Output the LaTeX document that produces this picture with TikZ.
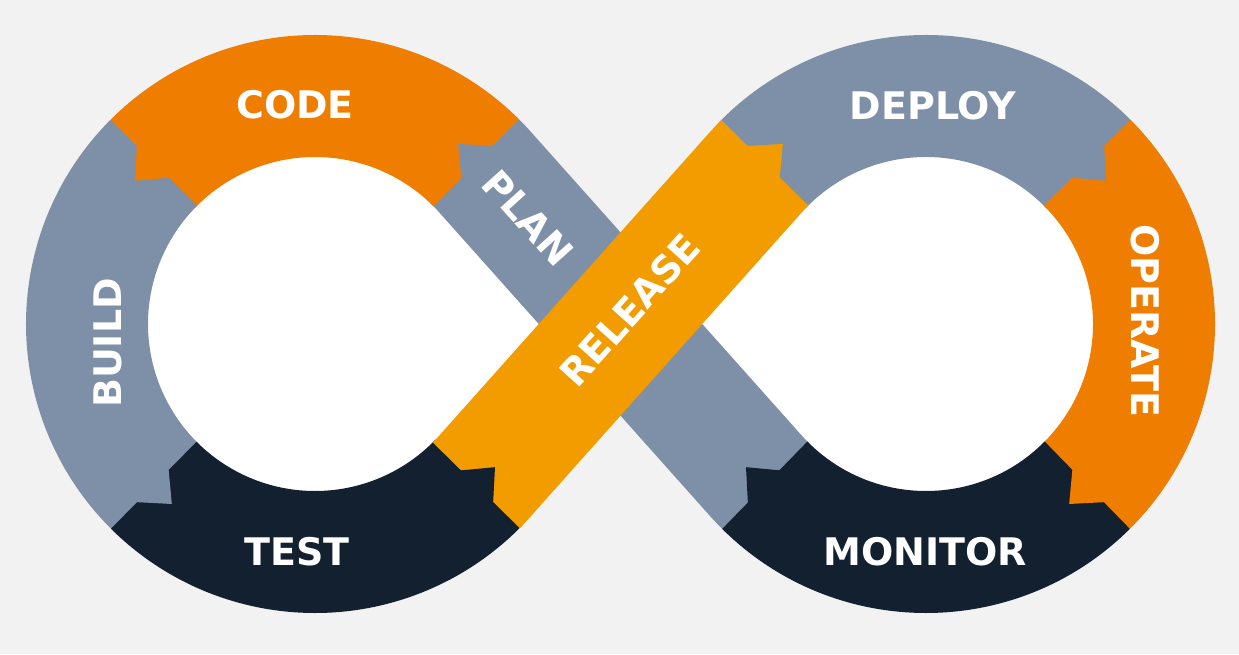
\documentclass[tikz,border=0pt]{standalone}
\usepackage{fontspec}
\setmainfont{DejaVu Sans}
\usetikzlibrary{calc}
\definecolor{codeorange}{HTML}{EE7D00}
\definecolor{slate}{HTML}{7E8FA8}
\definecolor{navy}{HTML}{13202F}
\definecolor{amber}{HTML}{F39C00}
\definecolor{paper}{HTML}{F2F2F2}
\tikzset{
  band/.style={line width=122pt},
  lbl/.style={text=white, font=\fontsize{38}{40}\selectfont\bfseries}
}
\begin{document}
\begin{tikzpicture}[x=1pt, y=1pt]
    \fill[paper] (0,0) rectangle (1239,654);
    \useasboundingbox (0,0) rectangle (1239,654);
    \coordinate (L) at (315,330);
    \coordinate (R) at (926,330);
    \fill[white] (549,330) -- ($(L)+(41.7:175)$) arc[start angle=41.7, end angle=318.3, radius=175] -- cycle;
    \fill[white] (692,330) -- ($(R)+(138.3:175)$) arc[start angle=138.3, end angle=-138.3, radius=175] -- cycle;
    \draw[band, slate] ($(L)+(46:228)$) arc[start angle=46, end angle=41.7, radius=228]
        -- ($(R)+(221.7:228)$) arc[start angle=221.7, end angle=226, radius=228];
    \draw[band, codeorange] ($(L)+(45:228)$) arc[start angle=45, end angle=136, radius=228];
    \draw[band, slate] ($(L)+(135:228)$) arc[start angle=135, end angle=226, radius=228];
    \draw[band, navy] ($(L)+(225:228)$) arc[start angle=225, end angle=316, radius=228];
    \draw[band, slate] ($(R)+(44:228)$) arc[start angle=44, end angle=136, radius=228];
    \draw[band, codeorange] ($(R)+(45:228)$) arc[start angle=45, end angle=-46, radius=228];
    \draw[band, navy] ($(R)+(-45:228)$) arc[start angle=-45, end angle=-135, radius=228];
    \draw[band, amber] ($(L)+(315:228)$) arc[start angle=315, end angle=318.3, radius=228]
        -- ($(R)+(138.3:228)$) arc[start angle=138.3, end angle=135, radius=228];
    \fill[slate] ($(L)+(44:204)$) -- ($(L)+(51.5:230)$) -- ($(L)+(44:256)$) -- cycle;
    \fill[codeorange] ($(L)+(134:204)$) -- ($(L)+(141.5:230)$) -- ($(L)+(134:256)$) -- cycle;
    \fill[slate] ($(L)+(224:204)$) -- ($(L)+(231.5:230)$) -- ($(L)+(224:256)$) -- cycle;
    \fill[navy] ($(L)+(314:204)$) -- ($(L)+(321.5:230)$) -- ($(L)+(314:256)$) -- cycle;
    \fill[amber] ($(R)+(136:204)$) -- ($(R)+(128.5:230)$) -- ($(R)+(136:256)$) -- cycle;
    \fill[slate] ($(R)+(46:204)$) -- ($(R)+(38.5:230)$) -- ($(R)+(46:256)$) -- cycle;
    \fill[codeorange] ($(R)+(-44:204)$) -- ($(R)+(-51.5:230)$) -- ($(R)+(-44:256)$) -- cycle;
    \fill[navy] ($(R)+(226:204)$) -- ($(R)+(218.5:230)$) -- ($(R)+(226:256)$) -- cycle;
    \node[lbl] (code) at (295,549) {CODE};
    \node[lbl, rotate=-48] (plan) at (528,436) {PLAN};
    \node[lbl, rotate=90] (build) at (108,311) {BUILD};
    \node[lbl] (test) at (297,102) {TEST};
    \node[lbl, rotate=48] (release) at (630,344) {RELEASE};
    \node[lbl] (deploy) at (933,548) {DEPLOY};
    \node[lbl, rotate=-90] (operate) at (1145,333) {OPERATE};
    \node[lbl] (monitor) at (925,102) {MONITOR};
\end{tikzpicture}
\end{document}
